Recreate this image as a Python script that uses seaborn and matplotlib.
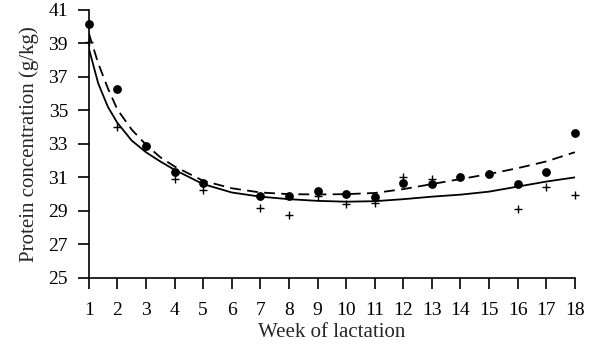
"""
Protein concentration over the weeks of lactation.
Dots and crosses are weekly observations, the lines are the fitted curves.
"""
import matplotlib
matplotlib.use("Agg")
import matplotlib.pyplot as plt
import pandas as pd
import seaborn as sns

# ----------------------------------------------------------------------
# Data
# ----------------------------------------------------------------------
dot_weeks = [1, 2, 3, 4, 5, 7, 8, 9, 10, 11, 12, 13, 14, 15, 16, 17, 18]
dot_protein = [40.15, 36.25, 32.9, 31.3, 30.65, 29.9, 29.9, 30.2, 30.0,
               29.85, 30.65, 30.6, 31.0, 31.2, 30.6, 31.35, 33.65]

cross_weeks = [1, 2, 3, 4, 5, 7, 8, 9, 10, 11, 12, 13, 16, 17, 18]
cross_protein = [39.1, 34.0, 32.9, 30.9, 30.25, 29.2, 28.75, 29.9, 29.4,
                 29.45, 31.0, 30.9, 29.1, 30.45, 29.95]

curve_weeks = [1, 1.33, 1.67, 2, 2.5, 3, 3.5, 4, 5, 6, 7, 8, 9, 10, 11,
               12, 13, 14, 15, 16, 17, 18]
solid_fit = [38.7, 36.6, 35.2, 34.25, 33.2, 32.5, 31.95, 31.45, 30.6, 30.1,
             29.85, 29.7, 29.6, 29.55, 29.58, 29.7, 29.85, 29.97, 30.15,
             30.45, 30.75, 31.0]
dashed_fit = [39.6, 37.8, 36.3, 35.05, 33.85, 32.95, 32.2, 31.65, 30.8, 30.35,
              30.1, 30.0, 29.98, 30.0, 30.07, 30.3, 30.6, 30.9, 31.2, 31.55,
              31.95, 32.5]

x_ticks = list(range(1, 19))
y_ticks = [25, 27, 29, 31, 33, 35, 37, 39, 41]

# ----------------------------------------------------------------------
# Plot
# ----------------------------------------------------------------------
sns.set_style("ticks")
plt.rcParams["font.family"] = ["Liberation Serif", "DejaVu Serif"]
plt.rcParams["font.size"] = 14

fig = plt.figure(figsize=(5.92, 3.53), dpi=100)
ax = fig.add_axes([0.150, 0.2125, 0.821, 0.760])

fits = pd.DataFrame({"week": curve_weeks, "solid": solid_fit, "dashed": dashed_fit})
sns.lineplot(data=fits, x="week", y="solid", color="black", lw=1.3, ax=ax)
sns.lineplot(data=fits, x="week", y="dashed", color="black", lw=1.3,
             linestyle=(0, (6, 3.5)), ax=ax)

sns.scatterplot(x=dot_weeks, y=dot_protein, color="black", s=40,
                marker="o", edgecolor="black", linewidth=0, ax=ax, zorder=3)
sns.scatterplot(x=cross_weeks, y=cross_protein, color="black", s=28,
                marker="+", linewidth=1.0, ax=ax, zorder=3)

for coll in ax.collections:
    coll.set_clip_on(False)

ax.set_xlim(1, 18)
ax.set_ylim(25, 41)
ax.set_xticks(x_ticks)
ax.set_yticks(y_ticks)
ax.tick_params(direction="out", length=8, width=1.2, labelsize=14,
               colors="black")
ax.tick_params(axis="x", pad=9)
ax.tick_params(axis="y", pad=7)
for side in ["left", "bottom"]:
    ax.spines[side].set_linewidth(1.2)
    ax.spines[side].set_color("black")
sns.despine(ax=ax)

ax.set_xlabel("Week of lactation", fontsize=15, labelpad=3)
ax.set_ylabel("Protein concentration (g/kg)", fontsize=15, labelpad=7)

fig.savefig("out.png", dpi=100)
plt.close(fig)
